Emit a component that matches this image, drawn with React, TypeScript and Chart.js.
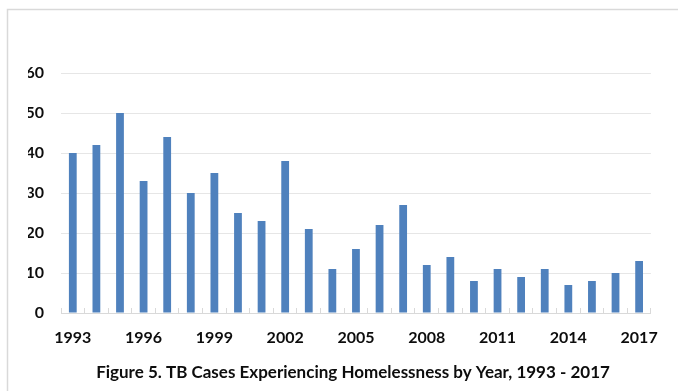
import React, { useEffect, useRef } from "react";
import { Chart, registerables } from "chart.js";

Chart.register(...registerables);

const years: string[] = [
  "1993", "1994", "1995", "1996", "1997", "1998", "1999", "2000", "2001",
  "2002", "2003", "2004", "2005", "2006", "2007", "2008", "2009", "2010",
  "2011", "2012", "2013", "2014", "2015", "2016", "2017",
];
const cases: number[] = [
  40, 42, 50, 33, 44, 30, 35, 25, 23, 38, 21, 11, 16, 22, 27, 12, 14, 8, 11, 9,
  11, 7, 8, 10, 13,
];
const yMax = 60;
const yStep = 10;
const caption = "Figure 5. TB Cases Experiencing Homelessness by Year, 1993 - 2017";

const FONT = "Lato, 'Open Sans', sans-serif";

// Caption under the plot and the light frame around the figure
const decor = {
  id: "decor",
  beforeDraw(chart: Chart) {
    const ctx = chart.ctx;
    ctx.save();
    ctx.strokeStyle = "#d9d9d9";
    ctx.lineWidth = 1.5;
    ctx.beginPath();
    ctx.moveTo(7.5, chart.height);
    ctx.lineTo(7.5, 9.5);
    ctx.lineTo(chart.width, 9.5);
    ctx.stroke();
    ctx.restore();
  },
  afterDraw(chart: Chart) {
    const ctx = chart.ctx;
    ctx.save();
    ctx.fillStyle = "#0d0d0d";
    ctx.font = `bold 17px ${FONT}`;
    ctx.textAlign = "center";
    ctx.textBaseline = "middle";
    ctx.fillText(caption, 353, 373);
    ctx.restore();
  },
};

export default function App() {
  const ref = useRef<HTMLCanvasElement | null>(null);

  useEffect(() => {
    if (!ref.current) return;
    const chart = new Chart(ref.current, {
      type: "bar",
      data: {
        labels: years,
        datasets: [
          {
            data: cases,
            backgroundColor: "#4f81bd",
            barPercentage: 0.33,
            categoryPercentage: 1,
          },
        ],
      },
      plugins: [decor],
      options: {
        animation: false,
        responsive: false,
        layout: { padding: { left: 28, right: 16, top: 73, bottom: 44 } },
        plugins: {
          legend: { display: false },
          tooltip: { enabled: false },
          title: { display: false },
        },
        scales: {
          x: {
            offset: true,
            grid: {
              offset: true,
              drawOnChartArea: false,
              drawTicks: true,
              tickLength: -5,
              color: "#d9d9d9",
              lineWidth: 1,
            },
            border: { display: true, color: "#d9d9d9", width: 1 },
            ticks: {
              autoSkip: false,
              maxRotation: 0,
              padding: 20,
              color: "#0d0d0d",
              font: { family: FONT, size: 16, weight: "bold" },
              callback: (_v: any, i: number) => (i % 3 === 0 ? years[i] : ""),
            },
            afterFit: (s: any) => {
              s.height = 34;
            },
          },
          y: {
            min: 0,
            max: yMax,
            grid: { color: "#e6e6e6", drawTicks: false, lineWidth: 1 },
            border: { display: false },
            ticks: {
              stepSize: yStep,
              padding: 17,
              color: "#0d0d0d",
              font: { family: FONT, size: 16, weight: "bold" },
            },
            afterFit: (s: any) => {
              s.width = 33;
            },
          },
        },
      },
    });
    return () => chart.destroy();
  }, []);

  return (
    <div style={{ position: "fixed", left: 0, top: 0, width: 678, height: 391, background: "#fff" }}>
      <canvas ref={ref} width={678} height={391} style={{ display: "block" }} />
    </div>
  );
}
